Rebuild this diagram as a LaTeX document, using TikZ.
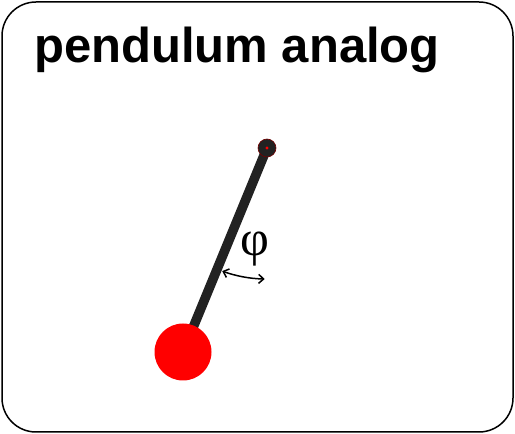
\documentclass[tikz,border=0pt]{standalone}
\usepackage{fontspec}
\setmainfont{Liberation Sans}
\newfontfamily\phifont{Liberation Serif}
\usetikzlibrary{arrows.meta}
\definecolor{rodcol}{HTML}{222222}
\begin{document}
\begin{tikzpicture}[x=1pt,y=1pt,
  frame/.style={draw=black,line width=1.5pt,rounded corners=34pt},
  titletext/.style={anchor=base west,inner sep=0pt,font=\fontsize{49}{51}\selectfont\bfseries},
  rodline/.style={draw=rodcol,line width=9.5pt},
  pivotdot/.style={circle,fill=rodcol,draw=red!45!black,line width=0.6pt,minimum size=18pt,inner sep=0pt},
  bobball/.style={circle,fill=red,minimum size=57pt,inner sep=0pt},
  anglearrow/.style={draw=black,line width=1.5pt,{Straight Barb[length=5pt,width=9pt]}-{Straight Barb[length=5pt,width=9pt]}},
  philabel/.style={inner sep=0pt,font=\phifont\fontsize{50}{52}\selectfont}
]
\useasboundingbox (0,0) rectangle (515,434);
\draw[frame] (2,2) rectangle (513,432);
\node[titletext] (title) at (34,371) {pendulum analog};
\coordinate (pivotc) at (267,286);
\coordinate (bobc) at (183,82);
\draw[rodline] (pivotc) -- (bobc);
\node[bobball] (bob) at (bobc) {};
\node[pivotdot] (pivot) at (pivotc) {};
\fill[red] (pivot.center) circle (1.6pt);
\draw[anglearrow] ([shift={(250:131)}]pivot.center) arc[start angle=250,end angle=269,radius=131];
\node[philabel] (phi) at (255,185) {φ};
\end{tikzpicture}
\end{document}
